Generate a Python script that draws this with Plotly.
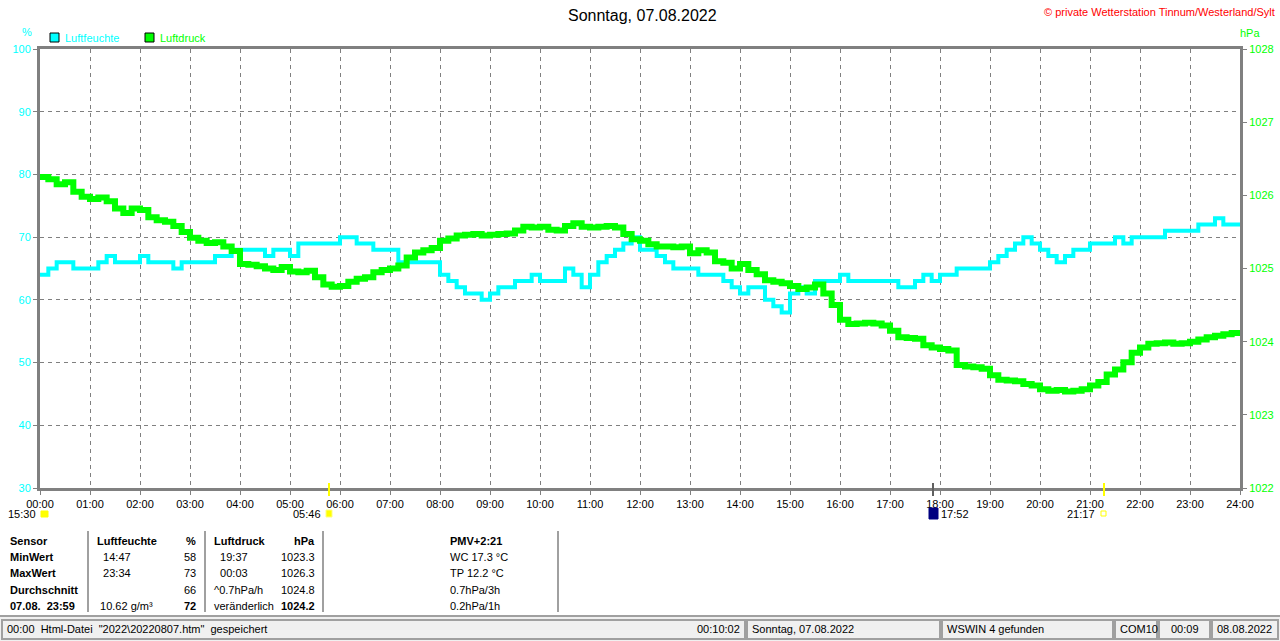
import plotly.graph_objects as go

# 10-minute readings, 00:00 .. 24:00
humidity = [
    64, 65, 66, 66, 65, 65, 65, 66, 67, 66, 66, 66,   # 00:00-01:50
    67, 66, 66, 66, 65, 66, 66, 66, 66, 67, 67, 68,   # 02:00-03:50
    68, 68, 68, 67, 68, 68, 67, 69, 69, 69, 69, 69,   # 04:00-05:50
    70, 70, 69, 69, 68, 68, 68, 66, 66, 66, 66, 66,   # 06:00-07:50
    64, 63, 62, 61, 61, 60, 61, 62, 62, 63, 63, 64,   # 08:00-09:50
    63, 63, 63, 65, 64, 62, 64, 66, 67, 68, 69, 70,   # 10:00-11:50
    68, 68, 67, 66, 65, 65, 65, 64, 64, 64, 63, 62,   # 12:00-13:50
    61, 62, 62, 60, 59, 58, 61, 62, 61, 63, 63, 63,   # 14:00-15:50
    64, 63, 63, 63, 63, 63, 63, 62, 62, 63, 64, 63,   # 16:00-17:50
    64, 64, 65, 65, 65, 65, 66, 67, 68, 69, 70, 69,   # 18:00-19:50
    68, 67, 66, 67, 68, 68, 69, 69, 69, 70, 69, 70,   # 20:00-21:50
    70, 70, 70, 71, 71, 71, 71, 72, 72, 73, 72, 72,   # 22:00-23:50
    72,
]
pressure = [
    1026.25, 1026.22, 1026.15, 1026.18, 1026.05, 1025.98, 1025.95, 1025.97, 1025.92, 1025.82, 1025.76, 1025.82,
    1025.80, 1025.70, 1025.66, 1025.64, 1025.58, 1025.50, 1025.42, 1025.38, 1025.35, 1025.36, 1025.30, 1025.24,
    1025.06, 1025.05, 1025.03, 1025.00, 1024.98, 1025.02, 1024.96, 1024.95, 1024.97, 1024.88, 1024.78, 1024.75,
    1024.76, 1024.82, 1024.86, 1024.88, 1024.95, 1024.98, 1025.00, 1025.04, 1025.15, 1025.22, 1025.25, 1025.28,
    1025.38, 1025.41, 1025.45, 1025.46, 1025.47, 1025.45, 1025.46, 1025.47, 1025.48, 1025.52, 1025.57, 1025.56,
    1025.57, 1025.53, 1025.52, 1025.58, 1025.62, 1025.57, 1025.56, 1025.57, 1025.58, 1025.56, 1025.47, 1025.40,
    1025.38, 1025.33, 1025.30, 1025.30, 1025.29, 1025.30, 1025.21, 1025.25, 1025.22, 1025.10, 1025.08, 1025.00,
    1025.06, 1024.98, 1024.92, 1024.84, 1024.82, 1024.80, 1024.76, 1024.72, 1024.74, 1024.78, 1024.66, 1024.50,
    1024.30, 1024.24, 1024.25, 1024.26, 1024.25, 1024.22, 1024.15, 1024.06, 1024.05, 1024.04, 1023.95, 1023.92,
    1023.90, 1023.88, 1023.68, 1023.66, 1023.65, 1023.63, 1023.54, 1023.48, 1023.47, 1023.46, 1023.42, 1023.40,
    1023.35, 1023.33, 1023.34, 1023.32, 1023.33, 1023.35, 1023.40, 1023.45, 1023.55, 1023.62, 1023.72, 1023.85,
    1023.92, 1023.97, 1023.98, 1023.99, 1023.97, 1023.98, 1024.00, 1024.03, 1024.06, 1024.08, 1024.10, 1024.12,
    1024.15,
]
hours = [i / 6 for i in range(len(humidity))]
hour_ticks = list(range(25))
hour_labels = [f"{h:02d}:00" for h in hour_ticks]

table_rows = [
    ["<b>Sensor</b>", "<b>Luftfeuchte</b>", "<b>%</b>", "<b>Luftdruck</b>", "<b>hPa</b>", "<b>PMV+2:21</b>"],
    ["<b>MinWert</b>", "  14:47", "58", "  19:37", "1023.3", "WC 17.3 °C"],
    ["<b>MaxWert</b>", "  23:34", "73", "  00:03", "1026.3", "TP 12.2 °C"],
    ["<b>Durchschnitt</b>", "", "66", "^0.7hPa/h", "1024.8", "0.7hPa/3h"],
    ["<b>07.08.  23:59</b>", " 10.62 g/m³", "<b>72</b>", "veränderlich", "<b>1024.2</b>", "0.2hPa/1h"],
]
status_panels = [
    ("00:00  Html-Datei  \"2022\\20220807.htm\"  gespeichert", 2, 745, "left"),
    ("00:10:02", 2, 745, "right"),
    ("Sonntag, 07.08.2022", 747, 940, "left"),
    ("WSWIN 4 gefunden", 942, 1113, "left"),
    ("COM10", 1115, 1157, "left"),
    ("00:09", 1159, 1210, "center"),
    ("08.08.2022", 1212, 1278, "left"),
]

CYAN = "#00FFFF"
GREEN = "#00FF00"
FONT = "Liberation Sans"

# plot area in pixels: x 40..1240, y 49..488
def px(x):
    return (x - 40) / 1200

def py(y):
    return (488 - y) / 439

fig = go.Figure()
fig.add_trace(go.Scatter(x=hours, y=humidity, mode="lines", line=dict(color=CYAN, width=4, shape="hv"),
                         name="Luftfeuchte", showlegend=False))
fig.add_trace(go.Scatter(x=hours, y=pressure, yaxis="y2", mode="lines",
                         line=dict(color=GREEN, width=6, shape="hv"), name="Luftdruck", showlegend=False))

ann = []
shapes = []

def text(x, y, s, color="black", size=11, anchor="left"):
    ann.append(dict(x=px(x), y=py(y), xref="paper", yref="paper", text=s, showarrow=False,
                    xanchor=anchor, yanchor="middle", font=dict(family=FONT, size=size, color=color)))

def rect(x0, y0, x1, y1, fill=None, line="#A0A0A0", w=1):
    shapes.append(dict(type="rect", xref="paper", yref="paper", x0=px(x0), x1=px(x1), y0=py(y0), y1=py(y1),
                       fillcolor=fill, line=dict(color=line, width=w), layer="above"))

def vline(x, y0, y1, color, w=1):
    shapes.append(dict(type="line", xref="paper", yref="paper", x0=px(x), x1=px(x), y0=py(y0), y1=py(y1),
                       line=dict(color=color, width=w)))

# header texts
text(643, 15, "Sonntag, 07.08.2022", size=16, anchor="center")
text(1277, 12, "© private Wetterstation Tinnum/Westerland/Sylt", color="#FF0000", anchor="right")
text(27, 32, "%", color=CYAN, anchor="center")
text(1250, 33, "hPa", color=GREEN, anchor="center")
rect(50, 33, 59, 42, fill=CYAN, line="black")
text(63, 38, "Luftfeuchte", color=CYAN)
rect(145, 33, 154, 42, fill=GREEN, line="black")
text(158, 38, "Luftdruck", color=GREEN)

# sun / moon markers
vline(329, 483, 496, "#FFFF00", 2)
vline(1104, 483, 496, "#FFFF00", 2)
vline(933, 483, 496, "#606060", 2)
text(38, 514, "15:30", anchor="right")
rect(41, 511, 48, 517, fill="#FFFF00", line="#FFFF00")
text(323, 514, "05:46", anchor="right")
rect(326, 510, 332, 517, fill="#FFFF00", line="#FFFF80")
rect(929, 508, 938, 519, fill="#000080", line="#000080")
text(939, 514, "17:52")
text(1097, 514, "21:17", anchor="right")
rect(1101, 511, 1106, 516, line="#FFFF00")

# sensor table
cols = [(8, "left"), (95, "left"), (198, "right"), (212, "left"), (317, "right"), (448, "left")]
row_y = [541, 557, 573, 590, 606]
for r, row in enumerate(table_rows):
    for c, cell in enumerate(row):
        if cell:
            x, a = cols[c]
            text(x, row_y[r], cell, anchor=a)
for x in [88, 205, 323, 558]:
    vline(x, 531, 612, "#A0A0A0", 2)

# status bar
rect(0, 616, 1290, 641, fill="#F0F0F0", line="#F0F0F0")
shapes.append(dict(type="line", xref="paper", yref="paper", x0=px(0), x1=px(1290), y0=py(616), y1=py(616),
                   line=dict(color="#A0A0A0", width=2)))
for s, x0, x1, a in status_panels:
    if a == "left":
        text(x0 + 3, 629, s)
    elif a == "right":
        text(x1 - 3, 629, s, anchor="right")
    else:
        text((x0 + x1) / 2, 629, s, anchor="center")
for x0, x1 in [(2, 745), (747, 940), (942, 1113), (1115, 1157), (1159, 1210), (1212, 1278)]:
    rect(x0, 620, x1, 639, line="#A0A0A0", w=2)

fig.update_layout(
    width=1287, height=641, autosize=False,
    margin=dict(l=40, r=47, t=49, b=153),
    paper_bgcolor="white", plot_bgcolor="white",
    font=dict(family=FONT, size=11, color="black"),
    xaxis=dict(range=[0, 24], tickvals=hour_ticks, ticktext=hour_labels, showgrid=True,
               gridcolor="#808080", griddash="4px,4px", gridwidth=1, showline=True, linecolor="#808080",
               linewidth=3, mirror=True, ticks="outside", ticklen=4, tickcolor="#808080", zeroline=False,
               tickfont=dict(size=11, color="black")),
    yaxis=dict(range=[30, 100], dtick=10, showgrid=True, gridcolor="#808080", griddash="4px,4px", gridwidth=1,
               showline=True, linecolor="#808080", linewidth=3, mirror=True, ticks="outside", ticklen=4,
               tickcolor="#808080", zeroline=False, tickfont=dict(size=11, color=CYAN)),
    yaxis2=dict(range=[1022, 1028], dtick=1, overlaying="y", side="right", showgrid=False, showline=True,
                linecolor="#808080", linewidth=3, ticks="outside", ticklen=4, tickcolor="#808080",
                zeroline=False, tickfont=dict(size=11, color=GREEN)),
    annotations=ann,
    shapes=shapes,
)

# drop the default page margin and scrollbars so the figure sits at the window origin
fig.write_html(
    "out.html",
    config={"displayModeBar": False, "responsive": False},
    post_script="document.documentElement.style.overflow='hidden';"
                "document.body.style.margin='0px';document.body.style.overflow='hidden';",
)
